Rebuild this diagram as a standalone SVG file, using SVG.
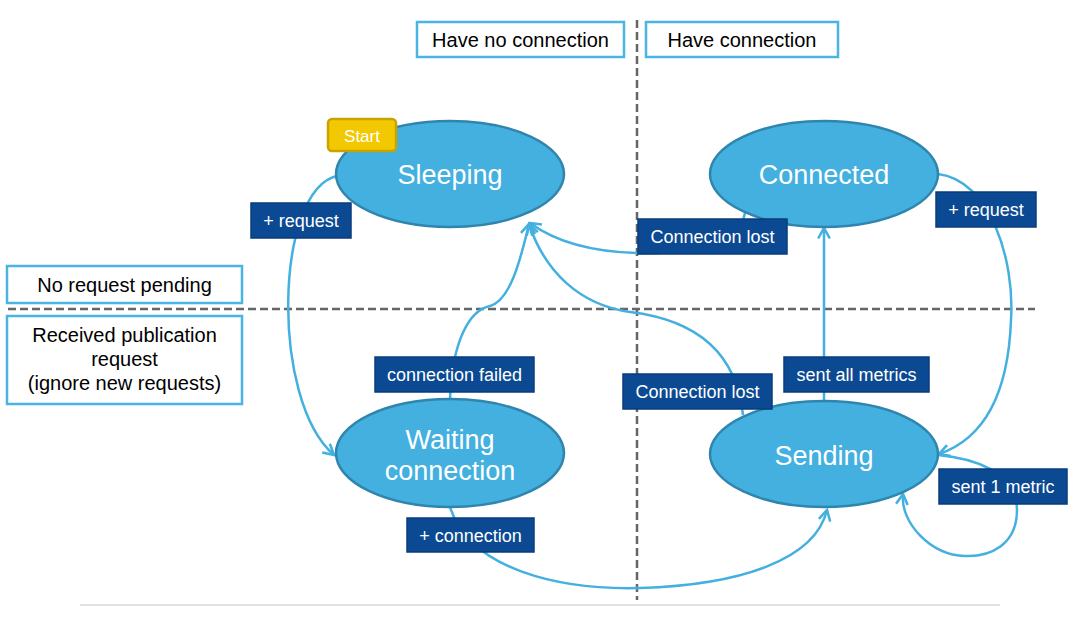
<svg xmlns="http://www.w3.org/2000/svg" width="1080" height="618" viewBox="0 0 1080 618">
<defs>
<style>
.state{fill:#43b0df;stroke:#2f85ad;stroke-width:2.5}
.stext{fill:#ffffff;font-family:"Liberation Sans",Arial,sans-serif;font-size:27px;text-anchor:middle}
.lbl{fill:#0b4a92;stroke:#083c7c;stroke-width:1.5}
.ltext{fill:#ffffff;font-family:"Liberation Sans",Arial,sans-serif;font-size:18px;text-anchor:middle}
.hdr{fill:#ffffff;stroke:#4ab4e4;stroke-width:2.5}
.htext{fill:#000000;font-family:"Liberation Sans",Arial,sans-serif;font-size:20px;text-anchor:middle}
.edge{fill:none;stroke:#44b0e0;stroke-width:2.5;marker-end:url(#arr)}
.dash{stroke:#666666;stroke-width:2.5;stroke-dasharray:8 4;fill:none}
</style>
<marker id="arr" viewBox="0 0 12 12" refX="10.5" refY="6" markerWidth="14" markerHeight="14" markerUnits="userSpaceOnUse" orient="auto">
<path d="M1.5,1 L10.5,6 L1.5,11" fill="none" stroke="#44b0e0" stroke-width="2.2"/>
</marker>
</defs>
<rect width="1080" height="618" fill="#ffffff"/>
<g id="guides">
<line class="dash" x1="637" y1="20" x2="637" y2="600"/>
<line class="dash" x1="8" y1="309" x2="1035" y2="309"/>
<line x1="80" y1="605" x2="1000" y2="605" stroke="#d8d8d8" stroke-width="1.5"/>
</g>
<g id="headers">
<g id="hdr-noconn"><rect class="hdr" x="417" y="22" width="207" height="35"/><text class="htext" x="520.5" y="47">Have no connection</text></g>
<g id="hdr-conn"><rect class="hdr" x="646" y="22" width="192" height="35"/><text class="htext" x="742" y="47">Have connection</text></g>
<g id="hdr-noreq"><rect class="hdr" x="7" y="266" width="235" height="37"/><text class="htext" x="124.5" y="292">No request pending</text></g>
<g id="hdr-recv"><rect class="hdr" x="7" y="316" width="235" height="88"/><text class="htext" x="124.5" y="342">Received publication</text><text class="htext" x="124.5" y="366">request</text><text class="htext" x="124.5" y="390">(ignore new requests)</text></g>
</g>
<g id="connectors">
<path class="edge" d="M337,176 C275,190 270,400 334,455"/>
<path class="edge" d="M745,213 C740,240 700,255 637,253 C600,252 560,245 530,223"/>
<path class="edge" d="M450,400 C452,340 470,310 490,306 C510,300 520,262 529,224"/>
<path class="edge" d="M743,415 C735,340 680,318 630,312 C580,305 545,272 529,224"/>
<path class="edge" d="M450,507 C470,570 560,590 640,588 C740,585 815,560 827,510"/>
<path class="edge" d="M824,400 L824,228"/>
<path class="edge" d="M938,174 C990,180 1015,260 1011,320 C1008,400 980,440 939,454"/>
<path class="edge" d="M938,455 C970,458 1017,470 1017,510 C1017,545 990,557 965,556 C930,555 900,522 903,494"/>
</g>
<g id="sleeping"><ellipse class="state" cx="450" cy="174" rx="114" ry="53"/><text class="stext" x="450" y="184">Sleeping</text></g>
<g id="start"><rect x="328" y="119" width="68" height="32" rx="4" fill="#f2c900" stroke="#c9a300" stroke-width="2.5"/><text x="362" y="142" fill="#ffffff" font-family="Liberation Sans, Arial, sans-serif" font-size="17" text-anchor="middle">Start</text></g>
<g id="connected"><ellipse class="state" cx="824" cy="174" rx="114" ry="53"/><text class="stext" x="824" y="184">Connected</text></g>
<g id="waiting"><ellipse class="state" cx="450" cy="453" rx="114" ry="54"/><text class="stext" x="450" y="449">Waiting</text><text class="stext" x="450" y="480">connection</text></g>
<g id="sending"><ellipse class="state" cx="824" cy="454" rx="114" ry="53"/><text class="stext" x="824" y="465">Sending</text></g>
<g id="labels">
<g id="l-req1"><rect class="lbl" x="251" y="203" width="100" height="35"/><text class="ltext" x="301" y="227">+ request</text></g>
<g id="l-lost1"><rect class="lbl" x="638" y="219" width="149" height="35"/><text class="ltext" x="712.5" y="243">Connection lost</text></g>
<g id="l-req2"><rect class="lbl" x="936" y="192" width="100" height="35"/><text class="ltext" x="986" y="216">+ request</text></g>
<g id="l-failed"><rect class="lbl" x="375" y="357" width="159" height="35"/><text class="ltext" x="454.5" y="381">connection failed</text></g>
<g id="l-conn"><rect class="lbl" x="407" y="518" width="127" height="34"/><text class="ltext" x="470.5" y="542">+ connection</text></g>
<g id="l-lost2"><rect class="lbl" x="623" y="374" width="149" height="35"/><text class="ltext" x="697.5" y="398">Connection lost</text></g>
<g id="l-all"><rect class="lbl" x="784" y="357" width="145" height="35"/><text class="ltext" x="856.5" y="381">sent all metrics</text></g>
<g id="l-one"><rect class="lbl" x="939" y="469" width="128" height="35"/><text class="ltext" x="1003" y="493">sent 1 metric</text></g>
</g>
</svg>
